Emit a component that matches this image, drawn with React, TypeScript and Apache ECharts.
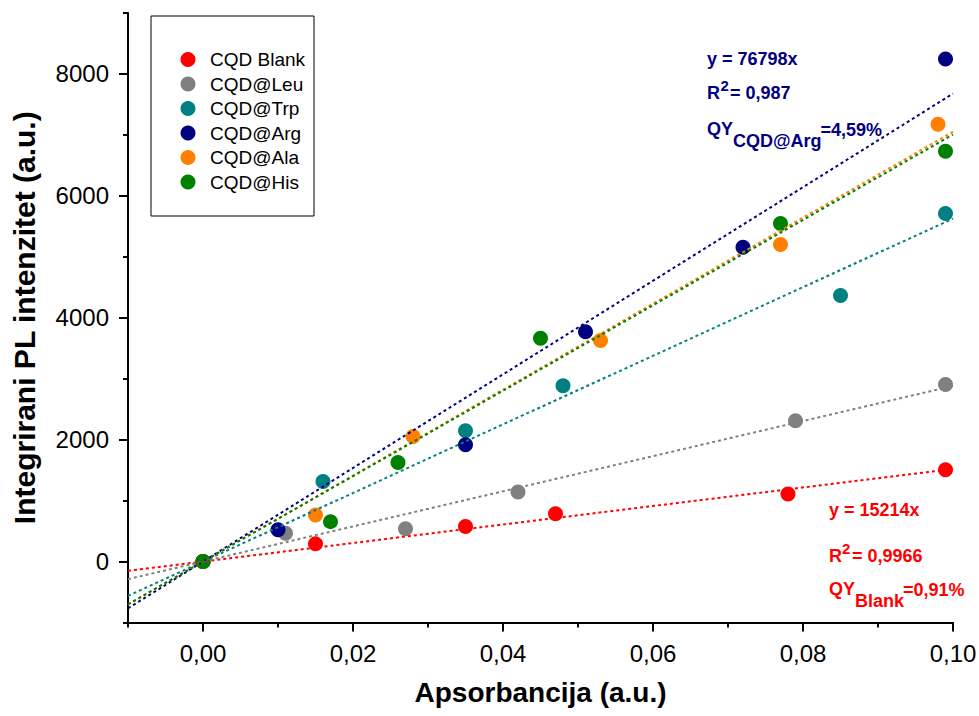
import React, { useEffect, useRef } from "react";
import * as echarts from "echarts";

const FONT = '"Liberation Sans", Arial, Helvetica, sans-serif';

// Series (absorbance, integrated PL intensity)
const seriesNames = ["CQD Blank", "CQD@Leu", "CQD@Trp", "CQD@Arg", "CQD@Ala", "CQD@His"];
const seriesColors = ["#FF0000", "#808080", "#008080", "#000080", "#FF8000", "#008000"];

const absBlank = [0, 0.015, 0.035, 0.047, 0.078, 0.099];
const plBlank = [0, 290, 575, 785, 1110, 1505];

const absLeu = [0, 0.011, 0.027, 0.042, 0.079, 0.099];
const plLeu = [0, 465, 540, 1140, 2310, 2905];

const absTrp = [0, 0.016, 0.035, 0.048, 0.085, 0.099];
const plTrp = [0, 1315, 2145, 2885, 4365, 5710];

const absArg = [0, 0.01, 0.035, 0.051, 0.072, 0.099];
const plArg = [0, 520, 1915, 3770, 5155, 8245];

const absAla = [0, 0.015, 0.028, 0.053, 0.077, 0.098];
const plAla = [0, 765, 2050, 3625, 5200, 7175];

const absHis = [0, 0.017, 0.026, 0.045, 0.077, 0.099];
const plHis = [0, 655, 1625, 3665, 5545, 6730];

const absLists = [absBlank, absLeu, absTrp, absArg, absAla, absHis];
const plLists = [plBlank, plLeu, plTrp, plArg, plAla, plHis];

// Axes
const xRange = [-0.01, 0.1];
const yRange = [-1000, 9000];
const xMajorTicks = [0, 0.02, 0.04, 0.06, 0.08, 0.1];
const xMinorTicks = [-0.01, 0.01, 0.03, 0.05, 0.07, 0.09];
const yMajorTicks = [0, 2000, 4000, 6000, 8000];
const yMinorTicks = [-1000, 1000, 3000, 5000, 7000, 9000];

// Fit annotations
const argText = { eq: "y = 76798x", r2: "= 0,987", qyLabel: "QY", qySub: "CQD@Arg", qyVal: "=4,59%" };
const blankText = { eq: "y = 15214x", r2: "= 0,9966", qyLabel: "QY", qySub: "Blank", qyVal: "=0,91%" };

function slopeThroughOrigin(xs: number[], ys: number[]) {
  let sxy = 0;
  let sxx = 0;
  for (let i = 0; i < xs.length; i++) {
    sxy += xs[i] * ys[i];
    sxx += xs[i] * xs[i];
  }
  return sxy / sxx;
}

function annotation(t: typeof argText, color: string, x: number, yEq: number, yR: number, yQ: number, xs: number[]) {
  const base = { fill: color, fontFamily: FONT, fontWeight: "bold", fontSize: 18, verticalAlign: "middle", align: "left" };
  return [
    { type: "text", x, y: yEq, style: { ...base, text: t.eq } },
    { type: "text", x, y: yR, style: { ...base, text: "R" } },
    { type: "text", x: xs[0], y: yR - 7.5, style: { ...base, fontSize: 15, text: "2" } },
    { type: "text", x: xs[1], y: yR, style: { ...base, text: t.r2 } },
    { type: "text", x, y: yQ, style: { ...base, text: t.qyLabel } },
    { type: "text", x: xs[2], y: yQ + 12.5, style: { ...base, text: t.qySub } },
    { type: "text", x: xs[3], y: yQ + 1, style: { ...base, text: t.qyVal } },
  ];
}

export default function App() {
  const ref = useRef<HTMLDivElement>(null);

  useEffect(() => {
    if (!ref.current) return;
    const chart = echarts.init(ref.current, undefined, { renderer: "svg" });

    const scatterSeries = seriesNames.map((name, i) => ({
      name,
      type: "scatter",
      symbol: "circle",
      symbolSize: 15,
      itemStyle: { color: seriesColors[i], opacity: 1 },
      data: absLists[i].map((a, j) => [a, plLists[i][j]]),
      z: 2,
      silent: true,
    }));

    const fitSeries = seriesNames.map((name, i) => {
      const k = slopeThroughOrigin(absLists[i], plLists[i]);
      return {
        name: name + " fit",
        type: "line",
        showSymbol: false,
        symbol: "none",
        silent: true,
        z: 3,
        lineStyle: { color: seriesColors[i], width: 2, type: [3, 3] },
        data: xRange.map((x) => [x, k * x]),
      };
    });

    const axisLineStyle = { color: "#000", width: 2 };

    const option = {
      animation: false,
      backgroundColor: "#fff",
      textStyle: { fontFamily: FONT },
      grid: { left: 128, right: 26, top: 13, bottom: 93.5, outerBoundsMode: "none", containLabel: false },
      legend: {
        data: seriesNames,
        orient: "vertical",
        left: 180.5,
        top: 50,
        padding: 0,
        itemWidth: 15,
        itemHeight: 15,
        itemGap: 5.5,
        icon: "circle",
        selectedMode: false,
        textStyle: { fontFamily: FONT, fontSize: 19, color: "#000", lineHeight: 19, padding: [0, 0, 0, 9.5] },
      },
      xAxis: [
        {
          type: "value",
          min: xRange[0],
          max: xRange[1],
          position: "bottom",
          offset: 0,
          name: "Apsorbancija (a.u.)",
          nameLocation: "middle",
          nameGap: 56,
          nameTextStyle: { fontFamily: FONT, fontWeight: "bold", fontSize: 28, color: "#000" },
          axisLine: { show: true, onZero: false, lineStyle: axisLineStyle },
          axisTick: { show: true, inside: false, length: 9, customValues: xMajorTicks, lineStyle: axisLineStyle },
          axisLabel: {
            show: true,
            customValues: xMajorTicks,
            margin: 19,
            fontFamily: FONT,
            fontSize: 24,
            color: "#000",
            formatter: (v: number) => v.toFixed(2).replace(".", ","),
          },
          splitLine: { show: false },
        },
        {
          type: "value",
          min: xRange[0],
          max: xRange[1],
          position: "bottom",
          offset: 0,
          axisLine: { show: false, onZero: false },
          axisTick: { show: true, inside: false, length: 5, customValues: xMinorTicks, lineStyle: axisLineStyle },
          axisLabel: { show: false },
          splitLine: { show: false },
        },
      ],
      yAxis: [
        {
          type: "value",
          min: yRange[0],
          max: yRange[1],
          position: "left",
          offset: 0,
          name: "Integrirani PL intenzitet (a.u.)",
          nameLocation: "middle",
          nameRotate: 90,
          nameGap: 89,
          nameTextStyle: { fontFamily: FONT, fontWeight: "bold", fontSize: 30, color: "#000" },
          axisLine: { show: true, onZero: false, lineStyle: axisLineStyle },
          axisTick: { show: true, inside: false, length: 9, customValues: yMajorTicks, lineStyle: axisLineStyle },
          axisLabel: {
            show: true,
            customValues: yMajorTicks,
            margin: 19,
            fontFamily: FONT,
            fontSize: 24,
            color: "#000",
            formatter: (v: number) => String(v),
          },
          splitLine: { show: false },
        },
        {
          type: "value",
          min: yRange[0],
          max: yRange[1],
          position: "left",
          offset: 0,
          axisLine: { show: false, onZero: false },
          axisTick: { show: true, inside: false, length: 5, customValues: yMinorTicks, lineStyle: axisLineStyle },
          axisLabel: { show: false },
          splitLine: { show: false },
        },
      ],
      graphic: [
        {
          type: "rect",
          shape: { x: 151, y: 16, width: 163, height: 200 },
          style: { fill: "none", stroke: "#000", lineWidth: 1 },
          silent: true,
          z: 10,
        },
        ...annotation(argText, "#000080", 707, 58.5, 92.5, 128.5, [720.5, 730, 733, 820.5]),
        ...annotation(blankText, "#FF0000", 829, 510, 556, 588.5, [842, 852, 855, 903]),
      ],
      series: [...scatterSeries, ...fitSeries],
    };

    chart.setOption(option as any);
    return () => chart.dispose();
  }, []);

  return <div ref={ref} style={{ position: "fixed", left: 0, top: 0, width: 979, height: 716 }} />;
}
